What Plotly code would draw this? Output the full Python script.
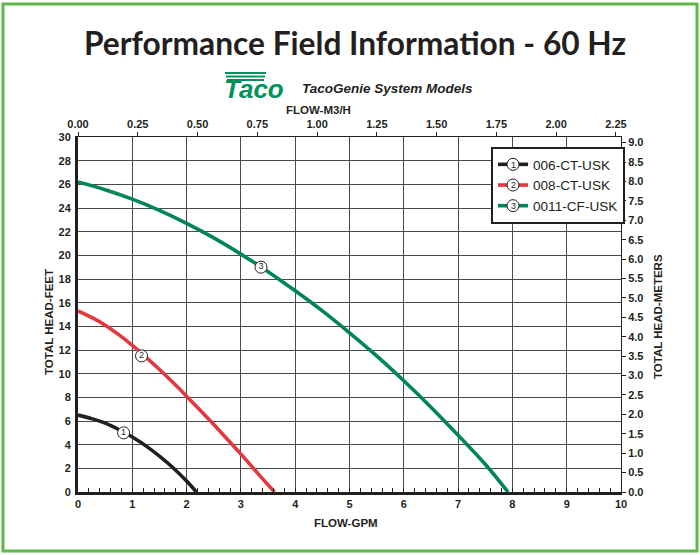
import plotly.graph_objects as go

# ---------------- data ----------------
GPM_006 = [0, 0.25, 0.5, 0.75, 1.0, 1.25, 1.5, 1.75, 2.0, 2.18]
FT_006 = [6.5, 6.2, 5.82, 5.28, 4.65, 3.9, 3.03, 2.05, 0.92, 0.0]

GPM_008 = [0, 0.25, 0.5, 0.75, 1.0, 1.25, 1.5, 1.75, 2.0, 2.25, 2.5, 2.75, 3.0, 3.25, 3.5, 3.62]
FT_008 = [15.3, 14.75, 14.1, 13.3, 12.4, 11.4, 10.35, 9.25, 8.1, 6.9, 5.7, 4.45, 3.2, 1.9, 0.6, 0.0]

GPM_0011 = [0, 0.5, 1, 1.5, 2, 2.5, 3, 3.5, 4, 4.5, 5, 5.5, 6, 6.5, 7, 7.5, 7.92]
FT_0011 = [26.2, 25.55, 24.75, 23.8, 22.7, 21.47, 20.1, 18.62, 17.0, 15.3, 13.45, 11.5,
           9.4, 7.17, 4.8, 2.35, 0.0]

MODELS = ["006-CT-USK", "008-CT-USK", "0011-CF-USK"]
NUMBERS = ["1", "2", "3"]
LABEL_GPM = [0.84, 1.17, 3.37]
LABEL_FT = [5.0, 11.5, 19.0]
COLORS = ["#231f20", "#e2393f", "#00845b"]

GPM_TO_M3H = 0.2271247
FT_TO_M = 0.3048
X_MAX = 10
Y_MAX = 30

# ---------------- geometry helpers (layout only) ----------------
W, H = 700, 555
L, R, T, B = 78, 79, 137, 63
PW, PH = W - L - R, H - T - B


def px(x):
    return (x - L) / PW


def py(y):
    return (H - B - y) / PH


BOLD = dict(family="Liberation Sans", size=11, color="#231f20", weight="bold")
TITLE_FONT = dict(family="Liberation Sans", size=11.5, color="#231f20", weight="bold")

fig = go.Figure()

curves = [(GPM_006, FT_006), (GPM_008, FT_008), (GPM_0011, FT_0011)]
for (xs, ys), c in zip(curves, COLORS):
    fig.add_trace(go.Scatter(x=xs, y=ys, mode="lines",
                             line=dict(color=c, width=3.6, shape="spline", smoothing=1.0),
                             showlegend=False, hoverinfo="skip"))

for i in range(3):
    fig.add_trace(go.Scatter(x=[LABEL_GPM[i]], y=[LABEL_FT[i]], mode="lines+markers",
                             name=MODELS[i],
                             line=dict(color=COLORS[i], width=3.6),
                             marker=dict(symbol="circle", size=12, color="white",
                                         line=dict(color="#231f20", width=1)),
                             hoverinfo="skip"))

fig.add_trace(go.Scatter(x=LABEL_GPM, y=LABEL_FT, mode="text", text=NUMBERS,
                         textposition="middle center",
                         textfont=dict(family="Liberation Sans", size=9, color="#231f20"),
                         showlegend=False, hoverinfo="skip"))

# invisible trace for secondary axes
fig.add_trace(go.Scatter(x=[0, X_MAX * GPM_TO_M3H], y=[0, Y_MAX * FT_TO_M], xaxis="x2", yaxis="y2",
                         mode="markers", marker=dict(opacity=0), showlegend=False, hoverinfo="skip"))

fig.update_layout(
    width=W, height=H, autosize=False,
    margin=dict(l=L, r=R, t=T, b=B),
    paper_bgcolor="white", plot_bgcolor="white",
    showlegend=True,
    legend=dict(x=px(491), y=py(147), xanchor="left", yanchor="top",
                bgcolor="white", bordercolor="#231f20", borderwidth=2,
                font=dict(family="Liberation Sans", size=13.6, color="#231f20"),
                tracegroupgap=0),
    xaxis=dict(range=[0, X_MAX], tick0=0, dtick=1, showgrid=True, gridcolor="#4a4a4a", gridwidth=1.2,
               showline=True, linecolor="#231f20", linewidth=3, ticks="inside", ticklen=4,
               tickcolor="#231f20", tickfont=BOLD, zeroline=False,
               minor=dict(dtick=0.2, ticks="inside", ticklen=4, tickcolor="#231f20", showgrid=False)),
    yaxis=dict(range=[0, Y_MAX], tick0=0, dtick=2, showgrid=True, gridcolor="#4a4a4a", gridwidth=1.2,
               showline=True, linecolor="#231f20", linewidth=3, ticks="", tickfont=BOLD,
               zeroline=False, ticklabelstandoff=2),
    xaxis2=dict(range=[0, X_MAX * GPM_TO_M3H], overlaying="x", side="top", tick0=0, dtick=0.25,
                tickformat=".2f", showgrid=False, zeroline=False, showline=True, linecolor="#231f20",
                linewidth=1, ticks="outside", ticklen=4, tickcolor="#231f20", tickfont=BOLD),
    yaxis2=dict(range=[0, Y_MAX * FT_TO_M], overlaying="y", side="right", tick0=0, dtick=0.5,
                tickformat=".1f", showgrid=False, zeroline=False, showline=True, linecolor="#231f20",
                linewidth=1, ticks="outside", ticklen=4, tickcolor="#231f20", tickfont=BOLD),
)

ann = []
ann.append(dict(text="Performance Field Information - 60 Hz", x=px(355), y=py(43), xref="paper", yref="paper",
                showarrow=False, xanchor="center", yanchor="middle",
                font=dict(family="Lato", size=31.7, color="#231f20", weight="bold")))
ann.append(dict(text="Taco", x=px(222), y=py(89), xref="paper", yref="paper", showarrow=False,
                xanchor="left", yanchor="middle",
                font=dict(family="Liberation Sans", size=26, color="#00925a", weight="bold", style="italic")))
ann.append(dict(text="TacoGenie System Models", x=px(300), y=py(89), xref="paper", yref="paper",
                showarrow=False, xanchor="left", yanchor="middle",
                font=dict(family="Liberation Sans", size=13.5, color="#231f20", weight="bold", style="italic")))
ann.append(dict(text="FLOW-M3/H", x=px(318), y=py(110), xref="paper", yref="paper", showarrow=False,
                xanchor="center", yanchor="middle", font=TITLE_FONT))
ann.append(dict(text="FLOW-GPM", x=px(346), y=py(523), xref="paper", yref="paper", showarrow=False,
                xanchor="center", yanchor="middle", font=TITLE_FONT))
ann.append(dict(text="TOTAL HEAD-FEET", x=px(49), y=py(322), xref="paper", yref="paper", showarrow=False,
                xanchor="center", yanchor="middle", textangle=-90, font=TITLE_FONT))
ann.append(dict(text="TOTAL HEAD-METERS", x=px(658), y=py(317), xref="paper", yref="paper", showarrow=False,
                xanchor="center", yanchor="middle", textangle=-90, font=TITLE_FONT))
for i in range(3):
    ann.append(dict(text=NUMBERS[i], x=px(513), y=py(164.5 + 20.7 * i), xref="paper", yref="paper",
                    showarrow=False, xanchor="center", yanchor="middle",
                    font=dict(family="Liberation Sans", size=9, color="#231f20")))
fig.update_layout(annotations=ann)

shapes = [dict(type="rect", xref="paper", yref="paper", x0=px(3), x1=px(697), y0=py(551), y1=py(4),
               line=dict(color="#5db848", width=3), fillcolor="rgba(0,0,0,0)", layer="above")]
for k in range(3):
    shapes.append(dict(type="line", xref="paper", yref="paper", x0=px(225 + k), x1=px(266 - k),
                       y0=py(73 + 3.5 * k), y1=py(73 + 3.5 * k),
                       line=dict(color="#00925a", width=2)))
fig.update_layout(shapes=shapes)

fig.write_html("out.html", config={"displayModeBar": False},
               post_script="document.body.style.margin='0';")
